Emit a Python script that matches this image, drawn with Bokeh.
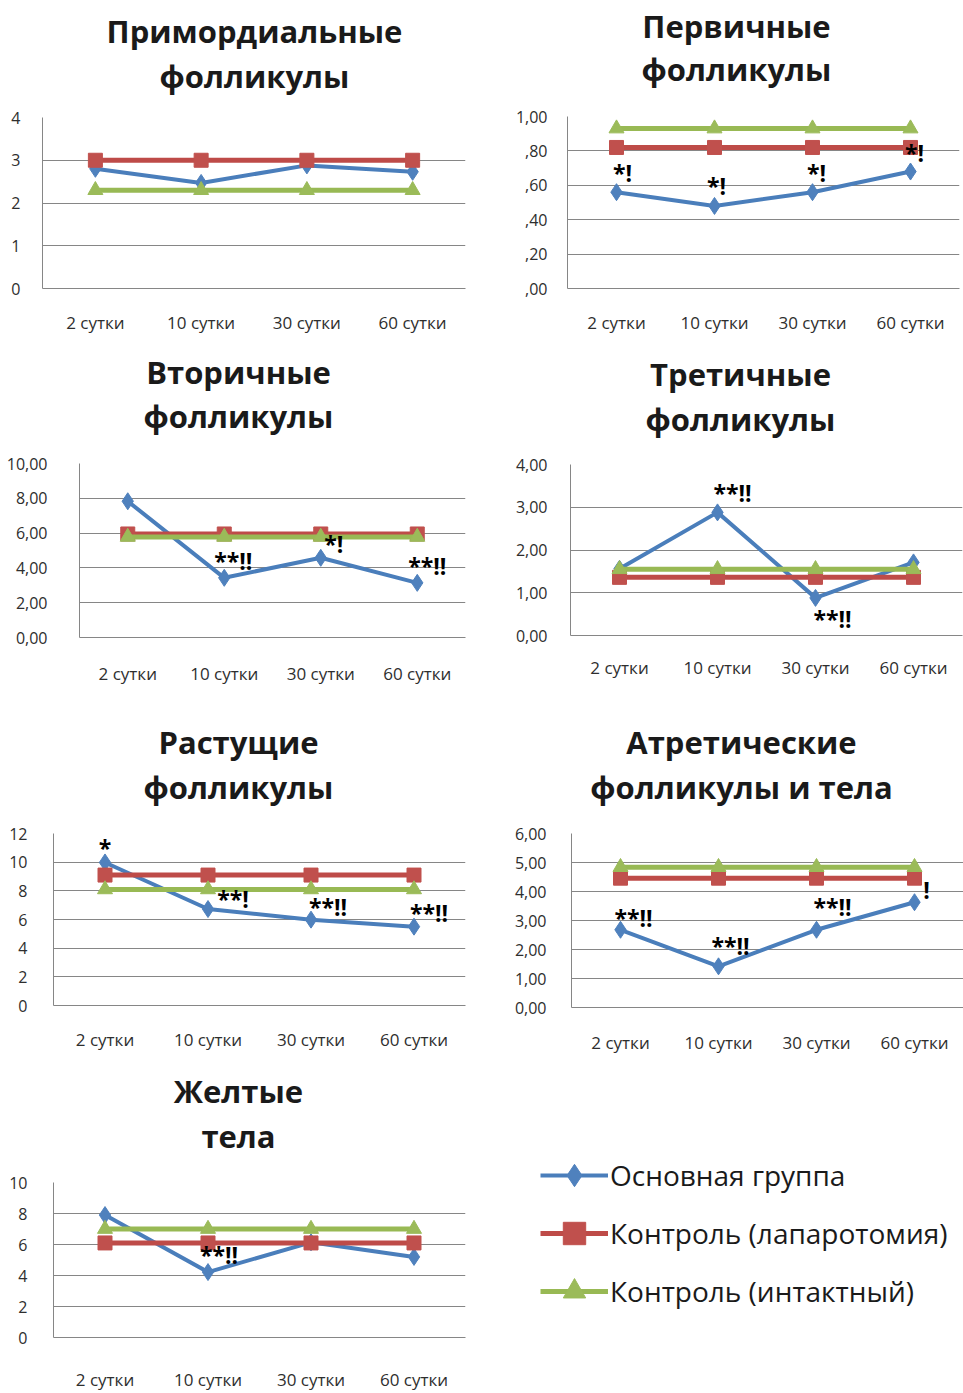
from bokeh.plotting import figure
from bokeh.models import (FactorRange, Range1d, FixedTicker, Label, Legend,
                          LegendItem, ColumnDataSource)
from bokeh.layouts import column, row
from bokeh.embed import file_html
from bokeh.resources import INLINE
from bokeh.core.properties import value

days = ["2 сутки", "10 сутки", "30 сутки", "60 сутки"]
series_names = ["Основная группа", "Контроль (лапаротомия)", "Контроль (интактный)"]

# Примордиальные фолликулы
prim_main = [2.80, 2.47, 2.88, 2.73]
prim_lap = [3.00, 3.00, 3.00, 3.00]
prim_int = [2.30, 2.30, 2.30, 2.30]
prim_ticks = [0, 1, 2, 3, 4]
prim_tick_labels = ["0", "1", "2", "3", "4"]
prim_notes = ["", "", "", ""]

# Первичные фолликулы
perv_main = [0.56, 0.48, 0.56, 0.68]
perv_lap = [0.82, 0.82, 0.82, 0.82]
perv_int = [0.93, 0.93, 0.93, 0.93]
perv_ticks = [0.0, 0.2, 0.4, 0.6, 0.8, 1.0]
perv_tick_labels = [",00", ",20", ",40", ",60", ",80", "1,00"]
perv_notes = ["*!", "*!", "*!", "*!"]

# Вторичные фолликулы
vtor_main = [7.83, 3.43, 4.58, 3.14]
vtor_lap = [5.95, 5.95, 5.95, 5.95]
vtor_int = [5.78, 5.78, 5.78, 5.78]
vtor_ticks = [0, 2, 4, 6, 8, 10]
vtor_tick_labels = ["0,00", "2,00", "4,00", "6,00", "8,00", "10,00"]
vtor_notes = ["", "**!!", "*!", "**!!"]

# Третичные фолликулы
tret_main = [1.56, 2.88, 0.88, 1.71]
tret_lap = [1.36, 1.36, 1.36, 1.36]
tret_int = [1.55, 1.55, 1.55, 1.55]
tret_ticks = [0, 1, 2, 3, 4]
tret_tick_labels = ["0,00", "1,00", "2,00", "3,00", "4,00"]
tret_notes = ["", "**!!", "**!!", ""]

# Растущие фолликулы
rast_main = [9.98, 6.73, 5.99, 5.50]
rast_lap = [9.10, 9.10, 9.10, 9.10]
rast_int = [8.10, 8.10, 8.10, 8.10]
rast_ticks = [0, 2, 4, 6, 8, 10, 12]
rast_tick_labels = ["0", "2", "4", "6", "8", "10", "12"]
rast_notes = ["*", "**!", "**!!", "**!!"]

# Атретические фолликулы и тела
atr_main = [2.68, 1.42, 2.68, 3.63]
atr_lap = [4.46, 4.46, 4.46, 4.46]
atr_int = [4.84, 4.84, 4.84, 4.84]
atr_ticks = [0, 1, 2, 3, 4, 5, 6]
atr_tick_labels = ["0,00", "1,00", "2,00", "3,00", "4,00", "5,00", "6,00"]
atr_notes = ["**!!", "**!!", "**!!", "!"]

# Желтые тела
zhel_main = [7.90, 4.22, 6.14, 5.20]
zhel_lap = [6.10, 6.10, 6.10, 6.10]
zhel_int = [7.00, 7.00, 7.00, 7.00]
zhel_ticks = [0, 2, 4, 6, 8, 10]
zhel_tick_labels = ["0", "2", "4", "6", "8", "10"]
zhel_notes = ["", "**!!", "", ""]

FONT = "Open Sans"
GRID = "#868686"
STYLES = [
    # line colour, marker fill, marker, marker size, line width
    ("#4a7ebb", "#4f81bd", "diamond", 17, 4),
    ("#be4b48", "#c0504d", "square", 14, 5),
    ("#98b954", "#9bbb59", "triangle", 15, 5),
]


def blank(W, H):
    """A figure without axes or grid."""
    p = figure(width=W, height=H, x_range=Range1d(0, 1), y_range=Range1d(0, 1),
               x_axis_location=None, y_axis_location=None,
               min_border=0, output_backend="svg", toolbar_location=None)
    p.grid.visible = False
    p.outline_line_color = None
    p.background_fill_color = "white"
    p.border_fill_color = "white"
    return p


def heading(lines, W, H, cx, ys, L):
    """Two-line bold heading centred at cx (column coordinates).

    The heading sits in a column above a chart, so its frame starts at the
    chart's left border L; screen x is measured from there.
    """
    p = blank(W, H)
    for txt, y in zip(lines, ys):
        p.add_layout(Label(x=cx - L, y=H - y, x_units="screen", y_units="screen",
                           text=txt, text_font=FONT, text_font_style="bold",
                           text_font_size="31px", text_color="#1a1a1a",
                           text_align="center", text_baseline="middle"))
    return p


def make_panel(main, lap, intact, ticks, tick_labels, notes, note_dx, note_dy,
               W, H, L, R, T, B, y_standoff, x_standoff):
    p = figure(x_range=FactorRange(factors=days, range_padding=0),
               y_range=Range1d(0, ticks[-1]),
               width=W, height=H,
               min_border_left=L, min_border_right=R,
               min_border_top=T, min_border_bottom=B,
               output_backend="svg", toolbar_location=None)
    p.background_fill_color = "white"
    p.border_fill_color = "white"
    p.outline_line_color = None

    p.xgrid.visible = False
    p.ygrid.grid_line_color = GRID
    p.ygrid.grid_line_width = 1

    p.yaxis.ticker = FixedTicker(ticks=ticks)
    p.yaxis.major_label_overrides = dict(zip(ticks, tick_labels))
    p.yaxis.minor_tick_line_color = None
    p.yaxis.major_tick_line_color = None
    p.yaxis.axis_line_color = GRID
    p.yaxis.major_label_standoff = y_standoff
    p.yaxis.major_label_text_font = FONT
    p.yaxis.major_label_text_font_size = "16px"
    p.yaxis.major_label_text_color = "#2e2e2e"

    p.xaxis.major_tick_line_color = None
    p.xaxis.axis_line_color = GRID
    p.xaxis.major_label_standoff = x_standoff
    p.xaxis.major_label_text_font = FONT
    p.xaxis.major_label_text_font_size = "17px"
    p.xaxis.major_label_text_color = "#2e2e2e"

    src = ColumnDataSource(dict(day=days, main=main, lap=lap, intact=intact))
    for key, (lc, fc, marker, size, lw) in zip(["main", "lap", "intact"], STYLES):
        p.line("day", key, source=src, line_color=lc, line_width=lw)
        p.scatter("day", key, source=src, marker=marker, size=size,
                  fill_color=fc, line_color=fc)

    keep = [i for i, n in enumerate(notes) if n]
    if keep:
        nsrc = ColumnDataSource(dict(
            day=[days[i] for i in keep],
            y=[main[i] for i in keep],
            note=[notes[i] for i in keep],
            dx=[note_dx[i] for i in keep],
            dy=[note_dy[i] for i in keep],
        ))
        p.text(x="day", y="y", text="note", source=nsrc,
               x_offset="dx", y_offset="dy",
               text_font=value(FONT), text_font_style="bold",
               text_font_size="23px", text_color="black",
               text_align="center", text_baseline="middle")
    return p


# headings
h1 = heading(["Примордиальные", "фолликулы"], 480, 95, 254, [30, 75], 42)
h2 = heading(["Первичные", "фолликулы"], 483, 95, 256, [25, 68], 87)
h3 = heading(["Вторичные", "фолликулы"], 480, 100, 238, [26, 70], 79)
h4 = heading(["Третичные", "фолликулы"], 483, 100, 260, [28, 73], 90)
h5 = heading(["Растущие", "фолликулы"], 480, 110, 238, [41, 86], 53)
h6 = heading(["Атретические", "фолликулы и тела"], 483, 110, 261, [41, 86], 91)
h7 = heading(["Желтые", "тела"], 480, 100, 238, [30, 75], 53)

p1 = make_panel(prim_main, prim_lap, prim_int, prim_ticks, prim_tick_labels, prim_notes,
                [0, 0, 0, 0], [0, 0, 0, 0],
                480, 250, 42, 15, 22, 57, 16, 16)
p2 = make_panel(perv_main, perv_lap, perv_int, perv_ticks, perv_tick_labels, perv_notes,
                [6, 2, 4, 4], [-19, -20, -19, -19],
                483, 250, 87, 4, 21, 57, 14, 16)
p3 = make_panel(vtor_main, vtor_lap, vtor_int, vtor_ticks, vtor_tick_labels, vtor_notes,
                [0, 9, 13, 10], [0, -17, -14, -17],
                480, 255, 79, 15, 18, 63, 26, 18)
p4 = make_panel(tret_main, tret_lap, tret_int, tret_ticks, tret_tick_labels, tret_notes,
                [0, 15, 17, 0], [0, -19, 21, 0],
                483, 255, 90, 1, 19, 65, 17, 14)
p5 = make_panel(rast_main, rast_lap, rast_int, rast_ticks, rast_tick_labels, rast_notes,
                [0, 25, 17, 15], [-14, -10, -13, -14],
                480, 250, 53, 15, 23, 55, 20, 16)
p6 = make_panel(atr_main, atr_lap, atr_int, atr_ticks, atr_tick_labels, atr_notes,
                [13, 12, 16, 12], [-12, -20, -23, -12],
                483, 250, 91, 0, 23, 53, 19, 17)
p7 = make_panel(zhel_main, zhel_lap, zhel_int, zhel_ticks, zhel_tick_labels, zhel_notes,
                [0, 11, 0, 0], [0, -17, 0, 0],
                480, 233, 53, 15, 22, 41, 20, 24)

# legend panel: one off-canvas sample per series carries the legend glyph
lg = blank(483, 333)
items = []
for name, (lc, fc, marker, size, lw) in zip(series_names, STYLES):
    sample = ColumnDataSource(dict(x=[float("nan")], y=[float("nan")]))
    ln = lg.line("x", "y", source=sample, line_color=lc, line_width=lw)
    sc = lg.scatter("x", "y", source=sample, marker=marker, size=size,
                    fill_color=fc, line_color=fc)
    items.append(LegendItem(label=name, renderers=[ln, sc]))
lg.add_layout(Legend(items=items, location=(60, 74), orientation="vertical",
                     label_text_font=FONT, label_text_font_size="28px",
                     label_text_color="#1a1a1a", label_standoff=2,
                     glyph_width=68, glyph_height=56, label_height=56,
                     spacing=2, padding=0, margin=0,
                     border_line_color=None, background_fill_alpha=0))

layout = column(
    row(column(h1, p1), column(h2, p2)),
    row(column(h3, p3), column(h4, p4)),
    row(column(h5, p5), column(h6, p6)),
    row(column(h7, p7), lg),
)
open("out.html", "w").write(file_html(layout, INLINE))
